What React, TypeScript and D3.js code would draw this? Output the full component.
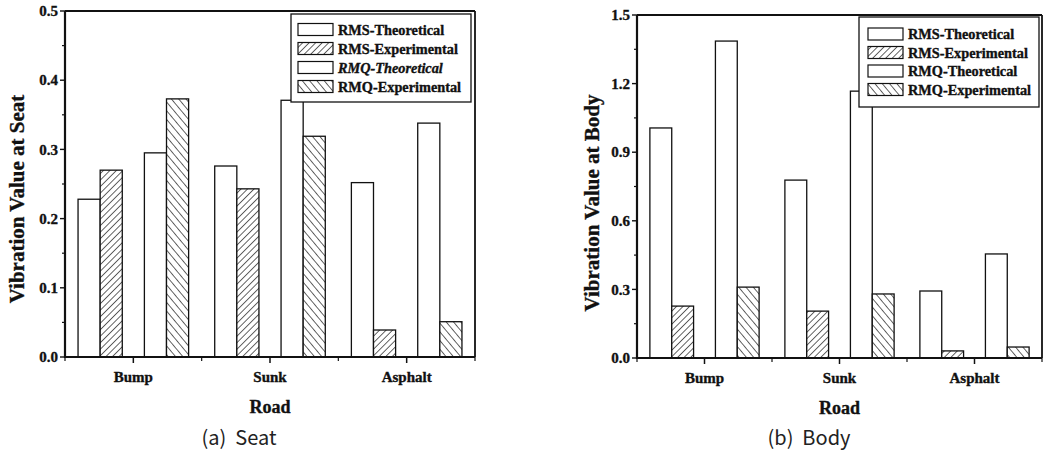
import React from "react";
import * as d3 from "d3";

// Road surfaces on the x axis
const roads = ["Bump", "Sunk", "Asphalt"];

// Series order inside each road group (slot 2 is an empty spacer)
const seriesNames = ["RMS-Theoretical", "RMS-Experimental", "RMQ-Theoretical", "RMQ-Experimental"];
const seriesSlots = [0, 1, 3, 4];
const seriesFill = ["none", "fwd", "none", "back"];

// Vibration values at the seat, per series, per road
const seatRmsTheo = [0.228, 0.276, 0.252];
const seatRmsExp = [0.27, 0.243, 0.039];
const seatRmqTheo = [0.295, 0.371, 0.338];
const seatRmqExp = [0.373, 0.319, 0.051];

// Vibration values at the body, per series, per road
const bodyRmsTheo = [1.006, 0.778, 0.293];
const bodyRmsExp = [0.227, 0.205, 0.031];
const bodyRmqTheo = [1.386, 1.167, 0.455];
const bodyRmqExp = [0.31, 0.28, 0.048];

const seatTicks = [0, 0.1, 0.2, 0.3, 0.4, 0.5];
const bodyTicks = [0, 0.3, 0.6, 0.9, 1.2, 1.5];

const SERIF = "'Liberation Serif', 'Times New Roman', serif";
const INK = "#111";

type Panel = {
  id: string;
  x0: number; x1: number; yTop: number; yBot: number;
  max: number; ticks: number[]; minorStep: number;
  series: number[][];
  yTitle: string; yTitleX: number; yTitleY: number;
  caption: string; captionX: number;
  legend: { x: number; y: number; w: number; h: number; rowY: number[]; swX: number; italicRmq: boolean };
};

const panels: Panel[] = [
  {
    id: "seat", x0: 65, x1: 475, yTop: 11, yBot: 357, max: 0.5, ticks: seatTicks, minorStep: 0.05,
    series: [seatRmsTheo, seatRmsExp, seatRmqTheo, seatRmqExp],
    yTitle: "Vibration Value at Seat", yTitleX: 17, yTitleY: 199,
    caption: "(a)  Seat", captionX: 239,
    legend: { x: 291, y: 14, w: 180, h: 88, rowY: [29.5, 48.5, 67.5, 86.5], swX: 298, italicRmq: true },
  },
  {
    id: "body", x0: 637, x1: 1042, yTop: 15, yBot: 358, max: 1.5, ticks: bodyTicks, minorStep: 0.15,
    series: [bodyRmsTheo, bodyRmsExp, bodyRmqTheo, bodyRmqExp],
    yTitle: "Vibration Value at Body", yTitleX: 592, yTitleY: 203,
    caption: "(b)  Body", captionX: 809,
    legend: { x: 859, y: 17, w: 180, h: 90, rowY: [34, 52.5, 71, 89.5], swX: 868, italicRmq: false },
  },
];

// Bold serif labels are drawn with a hairline outline so they read as heavy as print
const boldText = { fontFamily: SERIF, fontWeight: "bold" as const, fill: INK, stroke: INK, strokeWidth: 0.35 };

function fillFor(kind: string, id: string) {
  if (kind === "fwd") return `url(#hatchFwd-${id})`;
  if (kind === "back") return `url(#hatchBack-${id})`;
  return "#fff";
}

function ChartPanel({ p }: { p: Panel }) {
  const x = d3.scaleBand<string>().domain(roads).range([p.x0, p.x1]).paddingInner(0).paddingOuter(0);
  const slot = d3
    .scaleBand<number>()
    .domain(d3.range(5))
    .range([0, x.bandwidth()])
    .paddingInner(0)
    .paddingOuter(0.59);
  const y = d3.scaleLinear().domain([0, p.max]).range([p.yBot, p.yTop]);
  const minor = d3.range(0, p.max + 1e-9, p.minorStep).filter((v) => !p.ticks.some((t) => Math.abs(t - v) < 1e-6));
  const fmt = d3.format(".1f");
  const edges = [p.x0, ...roads.slice(1).map((r) => x(r)!), p.x1];

  return (
    <g>
      <defs>
        <pattern id={`hatchFwd-${p.id}`} patternUnits="userSpaceOnUse" width={4.6} height={4.6} patternTransform="rotate(45)">
          <rect width={4.6} height={4.6} fill="#fff" />
          <line x1={0} y1={0} x2={0} y2={4.6} stroke={INK} strokeWidth={1.3} />
        </pattern>
        <pattern id={`hatchBack-${p.id}`} patternUnits="userSpaceOnUse" width={5.6} height={5.6} patternTransform="rotate(-40)">
          <rect width={5.6} height={5.6} fill="#fff" />
          <line x1={0} y1={0} x2={0} y2={5.6} stroke={INK} strokeWidth={1.3} />
        </pattern>
      </defs>

      {/* bars */}
      {roads.map((r, ri) =>
        p.series.map((vals, si) => {
          const bx = x(r)! + slot(seriesSlots[si])!;
          const v = vals[ri];
          return (
            <rect
              key={`${r}-${si}`}
              x={bx}
              y={y(v)}
              width={slot.bandwidth()}
              height={y(0) - y(v)}
              fill={fillFor(seriesFill[si], p.id)}
              stroke={INK}
              strokeWidth={1.3}
            />
          );
        })
      )}

      {/* frame */}
      <line x1={p.x0} x2={p.x1} y1={p.yTop} y2={p.yTop} stroke={INK} strokeWidth={1.8} />
      <line x1={p.x1} x2={p.x1} y1={p.yTop} y2={p.yBot} stroke={INK} strokeWidth={1.8} />
      <line x1={p.x0} x2={p.x0} y1={p.yTop} y2={p.yBot + 1} stroke={INK} strokeWidth={2.2} />
      <line x1={p.x0} x2={p.x1} y1={p.yBot} y2={p.yBot} stroke={INK} strokeWidth={2.2} />

      {/* y ticks */}
      {p.ticks.map((t) => (
        <g key={`yt${t}`}>
          <line x1={p.x0 - 5} x2={p.x0} y1={y(t)} y2={y(t)} stroke={INK} strokeWidth={1.4} />
          <text x={p.x0 - 7} y={y(t)} dy="0.35em" textAnchor="end" fontSize={15} {...boldText}>
            {fmt(t)}
          </text>
        </g>
      ))}
      {minor.map((t) => (
        <line key={`ym${t}`} x1={p.x0 - 3} x2={p.x0} y1={y(t)} y2={y(t)} stroke={INK} strokeWidth={1.2} />
      ))}

      {/* x ticks */}
      {roads.map((r) => {
        const cx = x(r)! + x.bandwidth() / 2;
        return (
          <g key={`xt${r}`}>
            <line x1={cx} x2={cx} y1={p.yBot} y2={p.yBot + 6} stroke={INK} strokeWidth={1.5} />
            <text x={cx} y={p.yBot + 25} textAnchor="middle" fontSize={15} {...boldText}>
              {r}
            </text>
          </g>
        );
      })}
      {edges.map((ex, i) => (
        <line key={`xe${i}`} x1={ex} x2={ex} y1={p.yBot} y2={p.yBot + 4} stroke={INK} strokeWidth={1.2} />
      ))}

      {/* axis titles */}
      <text x={(p.x0 + p.x1) / 2} y={p.yBot + 56} textAnchor="middle" fontSize={18} {...boldText}>
        Road
      </text>
      <text
        transform={`translate(${p.yTitleX},${p.yTitleY}) rotate(-90)`}
        dy="0.35em"
        textAnchor="middle"
        fontSize={21}
        {...boldText}
      >
        {p.yTitle}
      </text>

      {/* caption */}
      <text
        x={p.captionX}
        y={445}
        textAnchor="middle"
        fontFamily="'Noto Sans CJK KR', 'DejaVu Sans', sans-serif"
        fontSize={20}
        fill="#222"
        style={{ whiteSpace: "pre" }}
      >
        {p.caption}
      </text>

      {/* legend */}
      <rect
        x={p.legend.x}
        y={p.legend.y}
        width={p.legend.w}
        height={p.legend.h}
        fill="#fff"
        stroke={INK}
        strokeWidth={1.3}
      />
      {seriesNames.map((name, i) => {
        const cy = p.legend.rowY[i];
        return (
          <g key={name}>
            <rect
              x={p.legend.swX}
              y={cy - 6}
              width={35}
              height={12}
              fill={fillFor(seriesFill[i], p.id)}
              stroke={INK}
              strokeWidth={1.2}
            />
            <text
              x={p.legend.swX + 40}
              y={cy}
              dy="0.35em"
              fontStyle={i === 2 && p.legend.italicRmq ? "italic" : "normal"}
              fontSize={14.3}
              {...boldText}
            >
              {name}
            </text>
          </g>
        );
      })}
    </g>
  );
}

export default function App() {
  return (
    <svg
      width={1045}
      height={453}
      style={{ position: "absolute", left: 0, top: 0, background: "#fff" }}
    >
      <rect width={1045} height={453} fill="#fff" />
      {panels.map((p) => (
        <ChartPanel key={p.id} p={p} />
      ))}
    </svg>
  );
}
